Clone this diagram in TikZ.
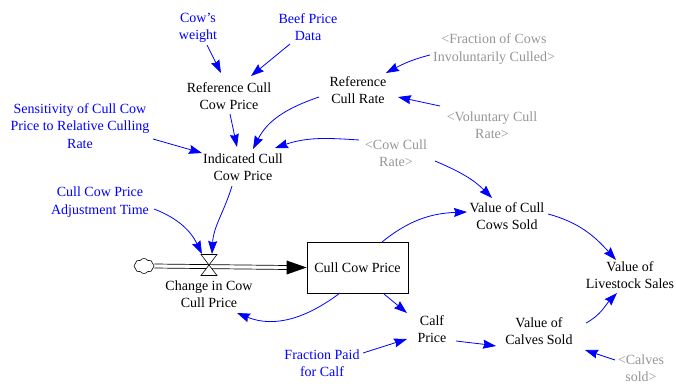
\documentclass[tikz,border=0pt]{standalone}
\usepackage{fontspec}
\setmainfont{Liberation Serif}
\usetikzlibrary{arrows.meta,shapes.symbols}
\definecolor{linkblue}{RGB}{0,0,255}
\definecolor{shadowgray}{RGB}{150,150,150}
\begin{document}
\begin{tikzpicture}[x=1pt,y=1pt,
  var/.style={align=center, inner sep=1pt, font=\fontsize{14}{17.5}\selectfont},
  const/.style={var, text=linkblue},
  shadowvar/.style={var, text=shadowgray},
  link/.style={draw=linkblue, line width=0.8pt, -{Stealth[length=13pt,width=9pt,inset=1.5pt]}},
  flowpipe/.style={draw=black, line width=0.7pt},
]
\fill[white] (0,0) rectangle (676,-385);
\useasboundingbox (0,0) rectangle (676,-385);

% --- variables ---
\node[const] (cw)    at (198,-28)  {Cow's\\weight};
\node[const] (bpd)   at (308,-27)  {Beef Price\\Data};
\node[var]   (rccp)  at (229,-96)  {Reference Cull\\Cow Price};
\node[var]   (rcr)   at (358,-90)  {Reference\\Cull Rate};
\node[shadowvar] (fci) at (494,-49) {<Fraction of Cows\\Involuntarily Culled>};
\node[shadowvar] (vcr) at (492,-125) {<Voluntary Cull\\Rate>};
\node[const] (sens)  at (80,-126)  {Sensitivity of Cull Cow\\Price to Relative Culling\\Rate};
\node[var]   (icp)   at (243,-167) {Indicated Cull\\Cow Price};
\node[shadowvar] (ccr) at (396,-153) {<Cow Cull\\Rate>};
\node[const] (ccpat) at (100,-202) {Cull Cow Price\\Adjustment Time};
\node[var]   (chg)   at (209,-294) {Change in Cow\\Cull Price};
\node[var, draw, line width=0.8pt, minimum width=101pt, minimum height=51pt] (stock) at (357.5,-267.5) {Cull Cow Price};
\node[cloud, draw, cloud puffs=8, cloud puff arc=110, aspect=1.4, inner sep=0pt,
      minimum width=20pt, minimum height=15pt, line width=0.6pt] (cloud) at (144,-266) {};
\node[var]   (vccs)  at (507,-216) {Value of Cull\\Cows Sold};
\node[var]   (vls)   at (630,-275) {Value of\\Livestock Sales};
\node[var]   (cp)    at (432,-329) {Calf\\Price};
\node[var]   (vcs)   at (539,-331) {Value of\\Calves Sold};
\node[const] (fpc)   at (322,-363) {Fraction Paid\\for Calf};
\node[shadowvar] (cs) at (641,-368) {<Calves\\sold>};
\coordinate (valve) at (209,-265);

% --- flow pipe from the cloud into the stock ---
\draw[flowpipe] ([shift={(0,2)}]cloud.east) -- ([shift={(-19,2)}]stock.west);
\draw[flowpipe] ([shift={(0,-2)}]cloud.east) -- ([shift={(-19,-2)}]stock.west);
\fill[black] ([shift={(-20,7)}]stock.west) -- (stock.west) -- ([shift={(-20,-7)}]stock.west) -- cycle;
% valve
\filldraw[fill=white, draw=black, line width=0.6pt]
  ([shift={(-8,10.5)}]valve) -- ([shift={(8,10.5)}]valve) -- ([shift={(-8,-10.5)}]valve)
  -- ([shift={(8,-10.5)}]valve) -- cycle;

% --- links ---
\draw[link] ([shift={(9,-17)}]cw.center) -- ([shift={(-8,23)}]rccp.center);
\draw[link] ([shift={(-18,-17)}]bpd.center) -- ([shift={(22,20)}]rccp.center);
\draw[link] ([shift={(1,-18)}]rccp.center) -- ([shift={(-6,20)}]icp.center);
\draw[link] ([shift={(-39,-7)}]rcr.center) to[out=199,in=63] ([shift={(10,18)}]icp.center);
\draw[link] ([shift={(-37,13)}]ccr.center) to[out=176,in=19] ([shift={(32,19)}]icp.center);
\draw[link] ([shift={(39,-8)}]ccr.center) to[out=-23,in=135] ([shift={(-15,18)}]vccs.center);
\draw[link] ([shift={(73,-13)}]sens.center) -- ([shift={(-41,14)}]icp.center);
\draw[link] ([shift={(-64,-6)}]fci.center) to[out=194,in=28] ([shift={(28,17)}]rcr.center);
\draw[link] ([shift={(-52,19)}]vcr.center) -- ([shift={(40,-7)}]rcr.center);
\draw[link] ([shift={(-11,-19)}]icp.center) to[out=253,in=87] ([shift={(3,11)}]valve);
\draw[link] ([shift={(54,-7)}]ccpat.center) to[out=-21,in=116] ([shift={(-7,11)}]valve);
\draw[link] ([shift={(-17.5,-25.5)}]stock.center) to[out=217,in=-22] ([shift={(28,-19)}]chg.center);
\draw[link] ([shift={(24.5,25.5)}]stock.center) to[out=39,in=182] ([shift={(-40,4)}]vccs.center);
\draw[link] ([shift={(41,2)}]vccs.center) to[out=-15,in=132] ([shift={(-14,15)}]vls.center);
\draw[link] ([shift={(26.5,-26.5)}]stock.center) -- ([shift={(-25,16)}]cp.center);
\draw[link] ([shift={(41,10)}]fpc.center) -- ([shift={(-25,-10)}]cp.center);
\draw[link] ([shift={(24,-12)}]cp.center) to[out=-7,in=172] ([shift={(-43,-15)}]vcs.center);
\draw[link] ([shift={(47,8)}]vcs.center) to[out=28,in=226] ([shift={(-13,-18)}]vls.center);
\draw[link] ([shift={(-26,8)}]cs.center) -- ([shift={(46,-19)}]vcs.center);
\end{tikzpicture}
\end{document}
